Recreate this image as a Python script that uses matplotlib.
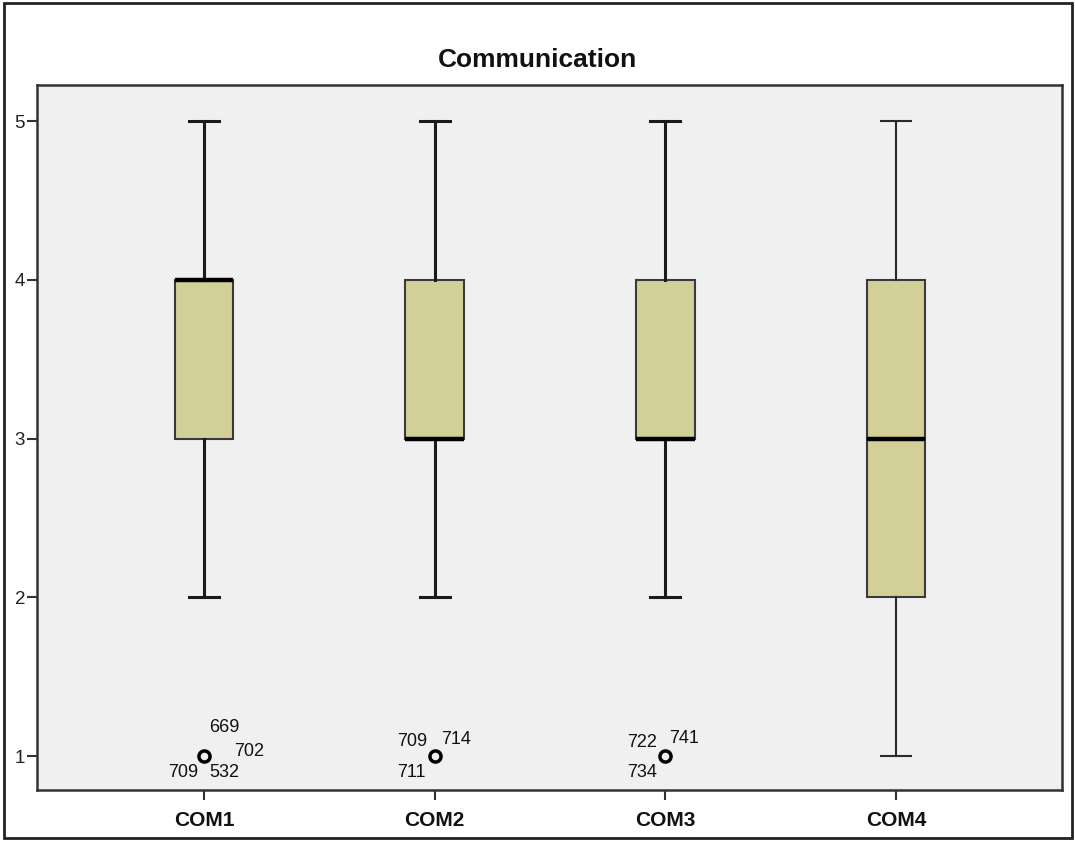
import matplotlib
matplotlib.use("Agg")
import matplotlib.pyplot as plt
from matplotlib.patches import Rectangle

plt.rcParams['font.family'] = ['Liberation Sans', 'DejaVu Sans']

# ---- data ----
categories = ["COM1", "COM2", "COM3", "COM4"]
whisker_low = [2, 2, 2, 1]
q1 = [3, 3, 3, 2]
median = [4, 3, 3, 3]
q3 = [4, 4, 4, 4]
whisker_high = [5, 5, 5, 5]
outliers = [[1], [1], [1], []]
outlier_labels = [["669", "702", "709", "532"], ["709", "714", "711"], ["722", "741", "734"], []]
yticks = [1, 2, 3, 4, 5]
title = "Communication"

# label offsets in pixels relative to outlier point (layout only)
label_offsets = [
    [(20, 29), (45, 5), (-21, -16), (20, -16)],
    [(-22, 15), (21, 17), (-23, -16)],
    [(-23, 14), (19, 18), (-23, -16)],
    [],
]

W, H = 1075, 841
fig = plt.figure(figsize=(W / 100, H / 100), dpi=100)
ax = fig.add_axes([37 / W, 1 - 790 / H, (1062 - 37) / W, (790 - 85) / H])
ax.set_facecolor('#F0F0F0')

stats = []
for i, c in enumerate(categories):
    stats.append(dict(label=c, whislo=whisker_low[i], q1=q1[i], med=median[i],
                      q3=q3[i], whishi=whisker_high[i], fliers=outliers[i]))

positions = list(range(1, len(categories) + 1))
bp = ax.bxp(stats, positions=positions, widths=0.255, capwidths=0.13,
            patch_artist=True, showfliers=True,
            boxprops=dict(facecolor='#D3CF98', edgecolor='#3a3a3a', linewidth=1.5),
            medianprops=dict(color='black', linewidth=3.2, solid_capstyle='butt'),
            whiskerprops=dict(color='#1a1a1a', linewidth=2.2),
            capprops=dict(color='#1a1a1a', linewidth=2.2),
            flierprops=dict(marker='o', markerfacecolor='none', markeredgecolor='black',
                            markersize=8, markeredgewidth=2.5, linestyle='none'))
# COM4 whiskers drawn thinner as in reference
for ln in bp['whiskers'][6:8] + bp['caps'][6:8]:
    ln.set_linewidth(1.5)
    ln.set_color('#2a2a2a')

for i, labs in enumerate(outlier_labels):
    for lab, off in zip(labs, label_offsets[i]):
        ax.annotate(lab, xy=(positions[i], outliers[i][0]), xytext=off,
                    textcoords='offset pixels', ha='center', va='center',
                    fontsize=13, color='#111111')

ax.set_xlim(0.276, 4.72)
ax.set_ylim(0.786, 5.227)
ax.set_yticks(yticks)
ax.set_yticklabels([str(v) for v in yticks], fontsize=13.5, color='#222222')
ax.set_xticks(positions)
ax.set_xticklabels(categories, fontsize=15, fontweight='bold', color='#111111')
ax.tick_params(axis='y', length=7.5, width=1.5, pad=1, color='#333333')
ax.tick_params(axis='x', length=7.5, width=1.5, pad=7.5, color='#333333')
for s in ax.spines.values():
    s.set_color('#333333')
    s.set_linewidth(1.8)

fig.text(537.5 / W, 1 - 60 / H, title, ha='center', va='center',
         fontsize=19, fontweight='bold', color='#111111')

fig.patches.append(Rectangle((4 / W, 1 - 838 / H), (1072 - 4) / W, (838 - 3) / H,
                             transform=fig.transFigure, fill=False,
                             edgecolor='#222222', linewidth=2))

fig.savefig('out.png', dpi=100)
